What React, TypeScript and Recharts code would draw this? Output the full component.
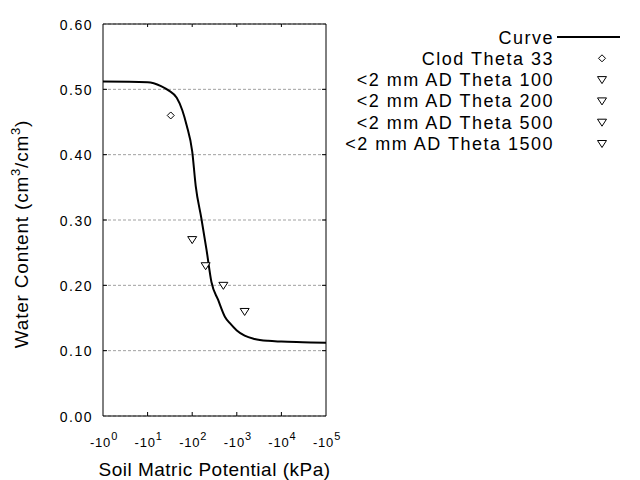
import {
  CartesianGrid,
  ComposedChart,
  Label,
  Legend,
  Line,
  Scatter,
  XAxis,
  YAxis,
} from "recharts";

const FONT = "'Liberation Sans', Arial, sans-serif";

// fitted retention curve
const CURVE_KPA = [1, 10, 20, 30, 45, 60, 75, 100, 120, 160, 210, 270, 380, 540, 700, 1000, 1500, 2500, 5000, 10000, 30000, 100000];
const CURVE_THETA = [0.512, 0.511, 0.505, 0.498, 0.487, 0.468, 0.445, 0.405, 0.352, 0.303, 0.254, 0.205, 0.178, 0.152, 0.142, 0.131, 0.123, 0.118, 0.115, 0.114, 0.113, 0.112];

// measured points
const POINT_NAMES = ["Clod Theta 33", "<2 mm AD Theta 100", "<2 mm AD Theta 200", "<2 mm AD Theta 500", "<2 mm AD Theta 1500"];
const POINT_KPA = [33, 100, 200, 500, 1500];
const POINT_THETA = [0.46, 0.27, 0.23, 0.2, 0.16];
const POINT_SHAPES = ["diamond", "triangle", "triangle", "triangle", "triangle"];

const LEGEND_ORDER = ["Curve", ...POINT_NAMES];

const X_TICKS = [1, 10, 100, 1000, 10000, 100000];
const Y_TICKS = [0, 0.1, 0.2, 0.3, 0.4, 0.5, 0.6];

const curveData = CURVE_KPA.map((x, i) => ({ x, y: CURVE_THETA[i] }));

function Marker({ cx, cy, kind }: { cx: number; cy: number; kind: string }) {
  if (kind === "diamond") {
    return (
      <path
        d={`M${cx},${cy - 3.5}L${cx + 3.5},${cy}L${cx},${cy + 3.5}L${cx - 3.5},${cy}Z`}
        fill="#fff"
        stroke="#000"
        strokeWidth={1}
      />
    );
  }
  return (
    <path
      d={`M${cx - 4.5},${cy - 3}L${cx + 4.5},${cy - 3}L${cx},${cy + 4}Z`}
      fill="#fff"
      stroke="#000"
      strokeWidth={1}
    />
  );
}

const isEdge = (v: number, ticks: number[]) => v === ticks[0] || v === ticks[ticks.length - 1];

function BottomTick({ x, y, payload }: any) {
  const exp = Math.round(Math.log10(payload.value));
  return (
    <g>
      {!isEdge(payload.value, X_TICKS) && <line x1={x} x2={x} y1={y} y2={y - 4} stroke="#000" />}
      <text x={x + 1} y={y + 31} textAnchor="middle" fontFamily={FONT} fontSize={13} fill="#000" letterSpacing={0.8}>
        <tspan>-10</tspan>
        <tspan dy={-7} fontSize={11}>{exp}</tspan>
      </text>
    </g>
  );
}

function TopTick({ x, y, payload }: any) {
  if (isEdge(payload.value, X_TICKS)) return <g />;
  return <line x1={x} x2={x} y1={y} y2={y + 3} stroke="#000" />;
}

function LeftTick({ x, y, payload }: any) {
  return (
    <g>
      {!isEdge(payload.value, Y_TICKS) && <line x1={x} x2={x + 4} y1={y} y2={y} stroke="#000" />}
      <text x={x - 10} y={y + 5.5} textAnchor="end" fontFamily={FONT} fontSize={14} fill="#000" letterSpacing={1.5}>
        {payload.value.toFixed(2)}
      </text>
    </g>
  );
}

function RightTick({ x, y, payload }: any) {
  if (isEdge(payload.value, Y_TICKS)) return <g />;
  return <line x1={x} x2={x - 4} y1={y} y2={y} stroke="#000" />;
}

function YTitle({ viewBox }: any) {
  const cy = viewBox.y + viewBox.height / 2 + 14;
  return (
    <text
      x={28}
      y={cy}
      transform={`rotate(-90, 28, ${cy})`}
      textAnchor="middle"
      fontFamily={FONT}
      fontSize={19}
      letterSpacing={0.8}
      fill="#000"
    >
      <tspan>Water Content (cm</tspan>
      <tspan dy={-8} fontSize={13}>3</tspan>
      <tspan dy={8}>/cm</tspan>
      <tspan dy={-8} fontSize={13}>3</tspan>
      <tspan dy={8}>)</tspan>
    </text>
  );
}

function XTitle({ viewBox }: any) {
  const cx = viewBox.x + viewBox.width / 2;
  return (
    <text x={cx} y={476} textAnchor="middle" fontFamily={FONT} fontSize={19} letterSpacing={0.5} fill="#000">
      Soil Matric Potential (kPa)
    </text>
  );
}

function LegendBox({ payload }: any) {
  const rows = (payload || [])
    .slice()
    .sort((a: any, b: any) => LEGEND_ORDER.indexOf(a.value) - LEGEND_ORDER.indexOf(b.value));
  return (
    <svg width={640} height={160} style={{ display: "block" }}>
      {rows.map((p: any, i: number) => {
        const cy = 37 + i * 21.3;
        const idx = POINT_NAMES.indexOf(p.value);
        return (
          <g key={p.value}>
            <text x={554} y={cy + 6.5} textAnchor="end" fontFamily={FONT} fontSize={18} letterSpacing={1.5} fill="#000">
              {p.value}
            </text>
            {idx < 0 ? (
              <line x1={557} x2={620} y1={cy} y2={cy} stroke="#000" strokeWidth={2} />
            ) : (
              <Marker cx={602} cy={cy} kind={POINT_SHAPES[idx]} />
            )}
          </g>
        );
      })}
    </svg>
  );
}

export default function App() {
  return (
    <div style={{ position: "absolute", left: 0, top: 0, width: 640, height: 480, background: "#fff" }}>
      <ComposedChart width={640} height={480} margin={{ top: 23, right: 313, bottom: 0, left: 0 }}>
        <CartesianGrid xAxisId="b" yAxisId="l" vertical={false} stroke="#a0a0a0" strokeDasharray="3 2" />
        <XAxis
          xAxisId="b"
          dataKey="x"
          type="number"
          scale="log"
          domain={[1, 100000]}
          ticks={X_TICKS}
          allowDataOverflow
          height={64}
          tickSize={0}
          tickMargin={0}
          tickLine={false}
          axisLine={{ stroke: "#000" }}
          tick={<BottomTick />}
          interval={0}
        >
          <Label content={<XTitle />} />
        </XAxis>
        <XAxis
          xAxisId="t"
          orientation="top"
          dataKey="x"
          type="number"
          scale="log"
          domain={[1, 100000]}
          ticks={X_TICKS}
          allowDataOverflow
          height={1}
          tickSize={0}
          tickMargin={0}
          tickLine={false}
          axisLine={{ stroke: "#000" }}
          tick={<TopTick />}
          interval={0}
        />
        <YAxis
          yAxisId="l"
          dataKey="y"
          type="number"
          domain={[0, 0.6]}
          ticks={Y_TICKS}
          allowDataOverflow
          width={103}
          tickSize={0}
          tickMargin={0}
          tickLine={false}
          axisLine={{ stroke: "#000" }}
          tick={<LeftTick />}
          interval={0}
        >
          <Label content={<YTitle />} />
        </YAxis>
        <YAxis
          yAxisId="r"
          orientation="right"
          dataKey="y"
          type="number"
          domain={[0, 0.6]}
          ticks={Y_TICKS}
          allowDataOverflow
          width={1}
          tickSize={0}
          tickMargin={0}
          tickLine={false}
          axisLine={{ stroke: "#000" }}
          tick={<RightTick />}
          interval={0}
        />
        <Line
          xAxisId="b"
          yAxisId="l"
          name="Curve"
          data={curveData}
          dataKey="y"
          type="monotone"
          stroke="#000"
          strokeWidth={2}
          dot={false}
          legendType="line"
          isAnimationActive={false}
        />
        {POINT_NAMES.map((name, i) => (
          <Scatter
            key={name}
            xAxisId="b"
            yAxisId="l"
            name={name}
            data={[{ x: POINT_KPA[i], y: POINT_THETA[i] }]}
            dataKey="y"
            shape={(p: any) => <Marker cx={p.cx} cy={p.cy} kind={POINT_SHAPES[i]} />}
            isAnimationActive={false}
          />
        ))}
        <Legend
          layout="vertical"
          align="center"
          verticalAlign="middle"
          content={<LegendBox />}
          wrapperStyle={{ left: 0, top: 0, width: 640, height: 160 }}
        />
      </ComposedChart>
    </div>
  );
}
